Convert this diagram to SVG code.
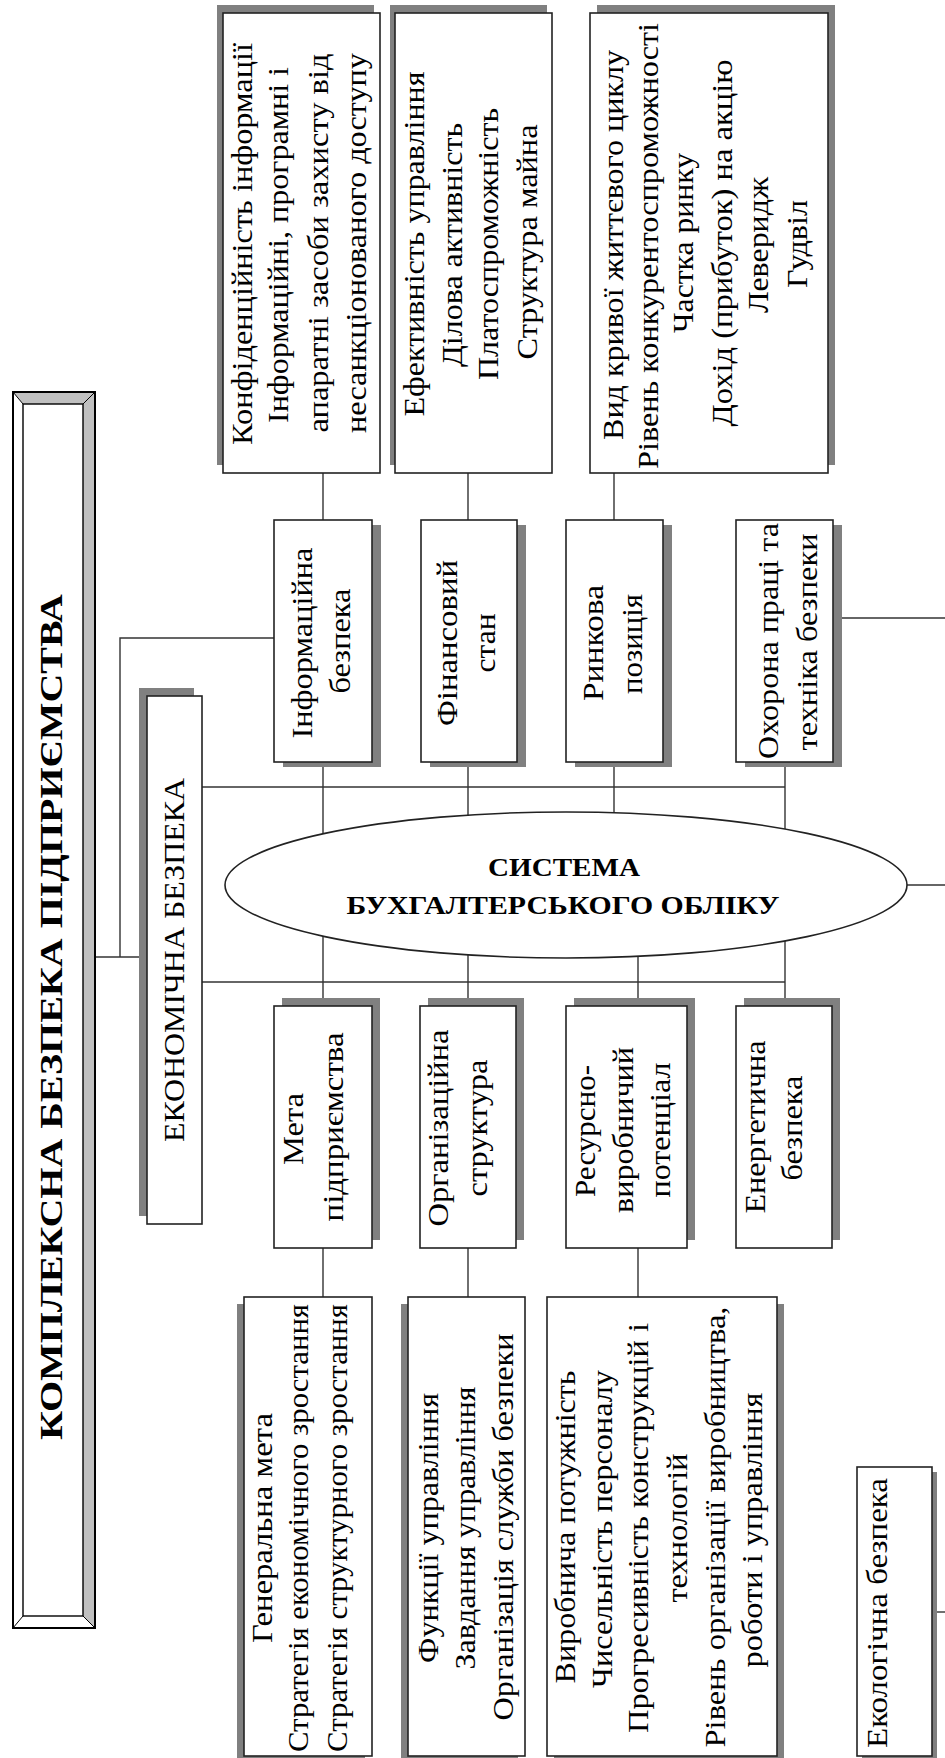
<svg xmlns="http://www.w3.org/2000/svg" width="945" height="1758" viewBox="0 0 945 1758">
<style>
.box{fill:#fff;stroke:#222;stroke-width:1.6}
.sh{fill:#808080}
.ln{stroke:#333;stroke-width:1.4;fill:none}
.t{font-family:"Liberation Serif","Times New Roman",serif;font-size:30px;fill:#000;text-anchor:middle}
.b{font-family:"Liberation Serif","Times New Roman",serif;font-weight:bold;fill:#000;text-anchor:middle}
</style>
<rect width="945" height="1758" fill="#fff"/>

<g id="connectors">
  <!-- main to economy -->
  <line class="ln" x1="95" y1="957" x2="147" y2="957"/>
  <polyline class="ln" points="120,957 120,638 274,638"/>
  <!-- bus lines -->
  <line class="ln" x1="202" y1="787" x2="785" y2="787"/>
  <line class="ln" x1="202" y1="982" x2="785" y2="982"/>
  <!-- top detail to category -->
  <line class="ln" x1="323" y1="473" x2="323" y2="520"/>
  <line class="ln" x1="468" y1="473" x2="468" y2="520"/>
  <line class="ln" x1="614" y1="473" x2="614" y2="520"/>
  <!-- category to ellipse -->
  <line class="ln" x1="323" y1="762" x2="323" y2="834"/>
  <line class="ln" x1="468" y1="762" x2="468" y2="815"/>
  <line class="ln" x1="614" y1="762" x2="614" y2="812"/>
  <line class="ln" x1="785" y1="762" x2="785" y2="829"/>
  <!-- ellipse to lower boxes -->
  <line class="ln" x1="323" y1="936" x2="323" y2="1006"/>
  <line class="ln" x1="468" y1="955" x2="468" y2="1006"/>
  <line class="ln" x1="638" y1="957" x2="638" y2="1006"/>
  <line class="ln" x1="785" y1="941" x2="785" y2="1006"/>
  <!-- lower boxes to details -->
  <line class="ln" x1="323" y1="1248" x2="323" y2="1297"/>
  <line class="ln" x1="468" y1="1248" x2="468" y2="1297"/>
  <line class="ln" x1="638" y1="1248" x2="638" y2="1297"/>
  <!-- right side exits -->
  <line class="ln" x1="833" y1="618" x2="945" y2="618"/>
  <line class="ln" x1="907" y1="885" x2="945" y2="885"/>
  <line class="ln" x1="932" y1="1612" x2="945" y2="1612"/>
</g>

<g id="main">
  <rect x="13" y="392" width="82" height="1236" fill="#fff" stroke="#000" stroke-width="2"/>
  <polygon points="13,392 95,392 83,404 23,404" fill="#c0c0c0"/>
  <polygon points="95,392 95,1628 83,1616 83,404" fill="#c0c0c0"/>
  <polygon points="13,392 23,404 23,1616 13,1628" fill="#fff"/>
  <polygon points="13,1628 23,1616 83,1616 95,1628" fill="#fff"/>
  <rect x="13" y="392" width="82" height="1236" fill="none" stroke="#000" stroke-width="2"/>
  <rect x="23" y="404" width="60" height="1212" fill="none" stroke="#000" stroke-width="1.4"/>
  <path d="M13,392 L23,404 M95,392 L83,404 M13,1628 L23,1616 M95,1628 L83,1616" stroke="#000" stroke-width="1"/>
  <text class="b" font-size="32" transform="translate(62,1017) rotate(-90)" textLength="846" lengthAdjust="spacingAndGlyphs">КОМПЛЕКСНА БЕЗПЕКА ПІДПРИЄМСТВА</text>
</g>

<g id="economy">
  <rect class="sh" x="139" y="688" width="55" height="528"/>
  <rect class="box" x="147" y="696" width="55" height="528"/>
  <text class="t" transform="translate(184,960) rotate(-90)" textLength="364" lengthAdjust="spacingAndGlyphs">ЕКОНОМІЧНА БЕЗПЕКА</text>
</g>

<g id="system">
  <ellipse cx="566" cy="885" rx="341" ry="73" fill="#fff" stroke="#222" stroke-width="1.6"/>
  <text class="b" font-size="26" x="564" y="876" textLength="152" lengthAdjust="spacingAndGlyphs">СИСТЕМА</text>
  <text class="b" font-size="26" x="563" y="914" textLength="433" lengthAdjust="spacingAndGlyphs">БУХГАЛТЕРСЬКОГО ОБЛІКУ</text>
</g>

<!-- top detail boxes -->
<g id="info-detail">
  <rect class="sh" x="217" y="5" width="157" height="460"/>
  <rect class="box" x="223" y="13" width="157" height="460"/>
  <text class="t" transform="translate(252,244) rotate(-90)" textLength="402" lengthAdjust="spacingAndGlyphs">Конфіденційність інформації</text>
  <text class="t" transform="translate(288,245) rotate(-90)" textLength="356" lengthAdjust="spacingAndGlyphs">Інформаційні, програмні і</text>
  <text class="t" transform="translate(328,243) rotate(-90)" textLength="379" lengthAdjust="spacingAndGlyphs">апаратні засоби захисту від</text>
  <text class="t" transform="translate(366,243) rotate(-90)" textLength="380" lengthAdjust="spacingAndGlyphs">несанкціонованого доступу</text>
</g>
<g id="fin-detail">
  <rect class="sh" x="390" y="5" width="157" height="460"/>
  <rect class="box" x="395" y="13" width="157" height="460"/>
  <text class="t" transform="translate(424,244) rotate(-90)" textLength="345" lengthAdjust="spacingAndGlyphs">Ефективність управління</text>
  <text class="t" transform="translate(462,245) rotate(-90)" textLength="244" lengthAdjust="spacingAndGlyphs">Ділова активність</text>
  <text class="t" transform="translate(498,244) rotate(-90)" textLength="272" lengthAdjust="spacingAndGlyphs">Платоспроможність</text>
  <text class="t" transform="translate(537,242) rotate(-90)" textLength="235" lengthAdjust="spacingAndGlyphs">Структура майна</text>
</g>
<g id="market-detail">
  <rect class="sh" x="597" y="5" width="238" height="460"/>
  <rect class="box" x="590" y="13" width="238" height="460"/>
  <text class="t" transform="translate(623,245) rotate(-90)" textLength="390" lengthAdjust="spacingAndGlyphs">Вид кривої життєвого циклу</text>
  <text class="t" transform="translate(658,246) rotate(-90)" textLength="446" lengthAdjust="spacingAndGlyphs">Рівень конкурентоспроможності</text>
  <text class="t" transform="translate(693,243) rotate(-90)" textLength="180" lengthAdjust="spacingAndGlyphs">Частка ринку</text>
  <text class="t" transform="translate(732,243) rotate(-90)" textLength="367" lengthAdjust="spacingAndGlyphs">Дохід (прибуток) на акцію</text>
  <text class="t" transform="translate(768,245) rotate(-90)" textLength="136" lengthAdjust="spacingAndGlyphs">Леверидж</text>
  <text class="t" transform="translate(807,244) rotate(-90)" textLength="88" lengthAdjust="spacingAndGlyphs">Гудвіл</text>
</g>

<!-- upper category boxes -->
<g id="info">
  <rect class="sh" x="283" y="525" width="98" height="242"/>
  <rect class="box" x="274" y="520" width="98" height="242"/>
  <text class="t" transform="translate(312,643) rotate(-90)" textLength="191" lengthAdjust="spacingAndGlyphs">Інформаційна</text>
  <text class="t" transform="translate(350,641) rotate(-90)" textLength="105" lengthAdjust="spacingAndGlyphs">безпека</text>
</g>
<g id="finance">
  <rect class="sh" x="430" y="525" width="96" height="242"/>
  <rect class="box" x="421" y="520" width="96" height="242"/>
  <text class="t" transform="translate(457,643) rotate(-90)" textLength="166" lengthAdjust="spacingAndGlyphs">Фінансовий</text>
  <text class="t" transform="translate(495,643) rotate(-90)" textLength="59" lengthAdjust="spacingAndGlyphs">стан</text>
</g>
<g id="market">
  <rect class="sh" x="575" y="525" width="97" height="242"/>
  <rect class="box" x="566" y="520" width="97" height="242"/>
  <text class="t" transform="translate(603,643) rotate(-90)" textLength="116" lengthAdjust="spacingAndGlyphs">Ринкова</text>
  <text class="t" transform="translate(642,644) rotate(-90)" textLength="100" lengthAdjust="spacingAndGlyphs">позиція</text>
</g>
<g id="labour">
  <rect class="sh" x="745" y="525" width="97" height="242"/>
  <rect class="box" x="736" y="520" width="97" height="242"/>
  <text class="t" transform="translate(778,641) rotate(-90)" textLength="236" lengthAdjust="spacingAndGlyphs">Охорона праці та</text>
  <text class="t" transform="translate(817,642) rotate(-90)" textLength="217" lengthAdjust="spacingAndGlyphs">техніка безпеки</text>
</g>

<!-- lower category boxes -->
<g id="goal">
  <rect class="sh" x="282" y="998" width="98" height="242"/>
  <rect class="box" x="274" y="1006" width="98" height="242"/>
  <text class="t" transform="translate(303,1129) rotate(-90)" textLength="72" lengthAdjust="spacingAndGlyphs">Мета</text>
  <text class="t" transform="translate(343,1127) rotate(-90)" textLength="189" lengthAdjust="spacingAndGlyphs">підприємства</text>
</g>
<g id="org">
  <rect class="sh" x="428" y="998" width="96" height="242"/>
  <rect class="box" x="420" y="1006" width="96" height="242"/>
  <text class="t" transform="translate(448,1128) rotate(-90)" textLength="197" lengthAdjust="spacingAndGlyphs">Організаційна</text>
  <text class="t" transform="translate(487,1128) rotate(-90)" textLength="137" lengthAdjust="spacingAndGlyphs">структура</text>
</g>
<g id="resource">
  <rect class="sh" x="574" y="998" width="121" height="242"/>
  <rect class="box" x="566" y="1006" width="121" height="242"/>
  <text class="t" transform="translate(595,1131) rotate(-90)" textLength="132" lengthAdjust="spacingAndGlyphs">Ресурсно-</text>
  <text class="t" transform="translate(633,1130) rotate(-90)" textLength="166" lengthAdjust="spacingAndGlyphs">виробничий</text>
  <text class="t" transform="translate(670,1130) rotate(-90)" textLength="135" lengthAdjust="spacingAndGlyphs">потенціал</text>
</g>
<g id="energy">
  <rect class="sh" x="744" y="998" width="96" height="242"/>
  <rect class="box" x="736" y="1006" width="96" height="242"/>
  <text class="t" transform="translate(765,1127) rotate(-90)" textLength="173" lengthAdjust="spacingAndGlyphs">Енергетична</text>
  <text class="t" transform="translate(802,1128) rotate(-90)" textLength="105" lengthAdjust="spacingAndGlyphs">безпека</text>
</g>

<!-- lower detail boxes -->
<g id="goal-detail">
  <rect class="sh" x="237" y="1304" width="128" height="460"/>
  <rect class="box" x="244" y="1297" width="128" height="459"/>
  <text class="t" transform="translate(272,1528) rotate(-90)" textLength="230" lengthAdjust="spacingAndGlyphs">Генеральна мета</text>
  <text class="t" transform="translate(308,1528) rotate(-90)" textLength="448" lengthAdjust="spacingAndGlyphs">Стратегія економічного зростання</text>
  <text class="t" transform="translate(347,1528) rotate(-90)" textLength="448" lengthAdjust="spacingAndGlyphs">Стратегія структурного зростання</text>
</g>
<g id="org-detail">
  <rect class="sh" x="401" y="1304" width="117" height="460"/>
  <rect class="box" x="408" y="1297" width="117" height="459"/>
  <text class="t" transform="translate(438,1528) rotate(-90)" textLength="270" lengthAdjust="spacingAndGlyphs">Функції управління</text>
  <text class="t" transform="translate(475,1528) rotate(-90)" textLength="283" lengthAdjust="spacingAndGlyphs">Завдання управління</text>
  <text class="t" transform="translate(513,1527) rotate(-90)" textLength="387" lengthAdjust="spacingAndGlyphs">Організація служби безпеки</text>
</g>
<g id="resource-detail">
  <rect class="sh" x="554" y="1304" width="230" height="460"/>
  <rect class="box" x="547" y="1297" width="230" height="459"/>
  <text class="t" transform="translate(575,1527) rotate(-90)" textLength="313" lengthAdjust="spacingAndGlyphs">Виробнича потужність</text>
  <text class="t" transform="translate(612,1529) rotate(-90)" textLength="318" lengthAdjust="spacingAndGlyphs">Чисельність персоналу</text>
  <text class="t" transform="translate(648,1528) rotate(-90)" textLength="410" lengthAdjust="spacingAndGlyphs">Прогресивність конструкцій і</text>
  <text class="t" transform="translate(687,1528) rotate(-90)" textLength="149" lengthAdjust="spacingAndGlyphs">технологій</text>
  <text class="t" transform="translate(725,1527) rotate(-90)" textLength="441" lengthAdjust="spacingAndGlyphs">Рівень організації виробництва,</text>
  <text class="t" transform="translate(762,1530) rotate(-90)" textLength="275" lengthAdjust="spacingAndGlyphs">роботи і управління</text>
</g>
<g id="eco">
  <rect class="sh" x="862" y="1472" width="75" height="292"/>
  <rect class="box" x="857" y="1467" width="75" height="289"/>
  <text class="t" transform="translate(887,1613) rotate(-90)" textLength="270" lengthAdjust="spacingAndGlyphs">Екологічна безпека</text>
</g>
</svg>
